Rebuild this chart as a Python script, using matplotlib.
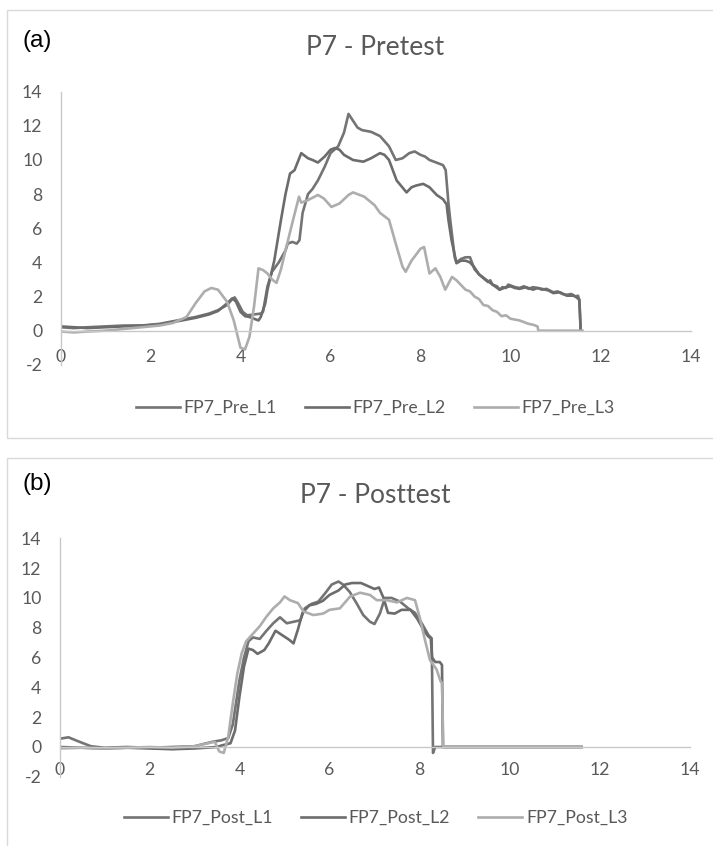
import matplotlib
matplotlib.use('Agg')
import matplotlib.pyplot as plt
from matplotlib.patches import Rectangle

plt.rcParams['axes.unicode_minus'] = False

# ---- data ----
pre_l1_x = [0.0, 0.3, 0.6, 1.0, 1.4, 1.8, 2.2, 2.6, 3.0, 3.3, 3.5, 3.7, 3.8, 3.87, 3.95, 4.05, 4.15, 4.3,
            4.45, 4.5, 4.6, 4.7, 4.85, 5.0, 5.05, 5.15, 5.25, 5.31, 5.38, 5.5, 5.6, 5.72, 5.87, 6.0, 6.17,
            6.3, 6.4, 6.5, 6.6, 6.7, 6.9, 7.1, 7.3, 7.45, 7.6, 7.75, 7.87, 8.0, 8.1, 8.2, 8.3, 8.4, 8.5,
            8.56, 8.62, 8.66, 8.76, 8.8, 8.9, 9.0, 9.1, 9.2, 9.3, 9.43, 9.5, 9.55, 9.6, 9.7, 9.76, 9.82,
            9.9, 9.95, 10.0, 10.1, 10.2, 10.3, 10.4, 10.5, 10.6, 10.7, 10.8, 10.95, 11.05, 11.15, 11.25,
            11.35, 11.45, 11.5, 11.53, 11.56]
pre_l1_y = [0.2, 0.15, 0.2, 0.25, 0.3, 0.3, 0.4, 0.6, 0.8, 1.0, 1.2, 1.5, 1.8, 1.95, 1.6, 1.1, 0.9, 0.95,
            1.0, 1.1, 2.6, 3.45, 4.0, 4.7, 5.1, 5.2, 5.1, 5.3, 6.9, 8.0, 8.3, 8.8, 9.6, 10.4, 10.8,
            11.6, 12.7, 12.3, 11.9, 11.75, 11.65, 11.4, 10.8, 10.0, 10.1, 10.4, 10.5, 10.3, 10.2, 10.0, 9.9,
            9.8, 9.7, 9.4, 7.5, 6.5, 4.3, 4.0, 4.2, 4.3, 4.3, 3.6, 3.3, 3.0, 2.85, 2.95, 2.7, 2.6, 2.4, 2.55,
            2.5, 2.7, 2.65, 2.55, 2.5, 2.6, 2.45, 2.55, 2.5, 2.4, 2.45, 2.25, 2.3, 2.15, 2.1,
            2.15, 2.0, 2.05, 1.8, 0.0]

pre_l2_x = [0.0, 0.3, 0.6, 1.0, 1.4, 1.8, 2.2, 2.6, 3.0, 3.3, 3.5, 3.7, 3.82, 3.9, 4.0, 4.1, 4.2, 4.3,
            4.4, 4.45, 4.55, 4.6, 4.75, 4.9, 5.0, 5.1, 5.2, 5.35, 5.5, 5.6, 5.72, 5.87, 6.0, 6.1, 6.2,
            6.3, 6.5, 6.73, 6.9, 7.1, 7.2, 7.3, 7.47, 7.69, 7.8, 7.9, 8.06, 8.2, 8.36, 8.5, 8.58, 8.62,
            8.69, 8.8, 8.9, 9.0, 9.1, 9.2, 9.3, 9.45, 9.6, 9.76, 9.9, 10.0, 10.1, 10.2, 10.35, 10.5,
            10.6, 10.7, 10.85, 10.95, 11.1, 11.25, 11.4, 11.47, 11.53, 11.56]
pre_l2_y = [0.25, 0.2, 0.15, 0.2, 0.25, 0.3, 0.35, 0.55, 0.75, 0.95, 1.15, 1.6, 1.9, 1.7, 1.1, 0.85, 0.8, 0.7,
            0.6, 0.8, 1.6, 2.4, 4.1, 6.5, 8.0, 9.2, 9.4, 10.4, 10.1, 10.0, 9.85, 10.2, 10.6, 10.7, 10.6,
            10.3, 10.0, 9.9, 10.1, 10.4, 10.3, 10.0, 8.8, 8.1, 8.4, 8.5, 8.6, 8.4, 7.95, 7.7, 7.4, 6.5,
            5.3, 3.95, 4.1, 4.1, 4.0, 3.7, 3.3, 3.0, 2.7, 2.4, 2.55, 2.6, 2.5, 2.45, 2.55, 2.4,
            2.5, 2.45, 2.35, 2.2, 2.25, 2.05, 2.05, 1.95, 1.8, 0.0]

pre_l3_x = [0.0, 0.3, 0.6, 1.0, 1.4, 1.8, 2.2, 2.5, 2.8, 3.0, 3.2, 3.35, 3.5, 3.7, 3.85, 4.0, 4.1, 4.2,
            4.3, 4.4, 4.5, 4.6, 4.7, 4.8, 4.9, 5.0, 5.15, 5.3, 5.35, 5.5, 5.72, 5.85, 6.02, 6.2, 6.4,
            6.5, 6.75, 6.98, 7.1, 7.3, 7.45, 7.6, 7.67, 7.8, 8.0, 8.08, 8.2, 8.33, 8.44, 8.55, 8.7, 8.8,
            9.0, 9.1, 9.2, 9.3, 9.4, 9.5, 9.6, 9.7, 9.8, 9.9, 10.0, 10.1, 10.2, 10.3, 10.4, 10.5, 10.6,
            10.62, 11.6]
pre_l3_y = [-0.05, -0.1, -0.05, 0.0, 0.1, 0.2, 0.3, 0.45, 0.8, 1.6, 2.3, 2.5, 2.4, 1.7, 0.6, -1.0, -1.1, -0.35,
            1.4, 3.65, 3.55, 3.35, 3.0, 2.8, 3.6, 4.7, 6.3, 7.85, 7.5, 7.65, 7.95, 7.75, 7.25, 7.45, 7.95,
            8.1, 7.85, 7.35, 6.9, 6.5, 5.1, 3.75, 3.45, 4.1, 4.8, 4.9, 3.35, 3.65, 3.15, 2.4, 3.15, 2.95,
            2.4, 2.3, 2.0, 1.85, 1.5, 1.45, 1.2, 1.1, 0.85, 0.9, 0.7, 0.65, 0.6, 0.5, 0.4, 0.35, 0.25,
            0.0, 0.0]

post_l1_x = [0.0, 0.2, 0.4, 0.7, 1.0, 1.5, 2.0, 2.5, 3.0, 3.4, 3.6, 3.75, 3.85, 4.0, 4.1, 4.2, 4.3, 4.45,
             4.6, 4.75, 4.9, 5.05, 5.2, 5.35, 5.45, 5.6, 5.75, 5.9, 6.05, 6.2, 6.3, 6.45, 6.6, 6.75, 6.9,
             7.0, 7.12, 7.23, 7.38, 7.57, 7.75, 7.9, 8.05, 8.2, 8.27, 8.28, 8.3, 8.35, 11.6]
post_l1_y = [0.55, 0.65, 0.4, 0.05, -0.05, 0.0, -0.05, 0.0, 0.05, 0.35, 0.45, 0.6, 1.5, 4.5, 6.0, 7.1, 7.35, 7.25,
             7.8, 8.3, 8.7, 8.3, 8.4, 8.5, 9.3, 9.6, 9.75, 10.3, 10.9, 11.1, 10.9, 10.4, 9.65, 8.85, 8.4,
             8.25, 8.95, 10.0, 10.0, 9.75, 9.3, 9.0, 8.3, 7.5, 7.3, 5.0, -0.4, 0.0, 0.0]

post_l2_x = [0.0, 0.5, 1.0, 1.5, 2.0, 2.5, 3.0, 3.5, 3.6, 3.8, 3.9, 4.0, 4.1, 4.2, 4.3, 4.4, 4.55, 4.65,
             4.8, 4.95, 5.1, 5.2, 5.3, 5.4, 5.55, 5.7, 5.85, 6.0, 6.2, 6.35, 6.5, 6.7, 6.85, 7.0, 7.1,
             7.2, 7.3, 7.45, 7.6, 7.8, 7.95, 8.1, 8.2, 8.25, 8.28, 8.35, 8.45, 8.5, 8.52, 11.6]
post_l2_y = [0.0, -0.05, -0.1, -0.05, -0.1, -0.15, -0.1, 0.0, 0.1, 0.25, 1.1, 3.4, 5.4, 6.6, 6.5, 6.25, 6.5, 6.95,
             7.8, 7.5, 7.2, 6.95, 7.9, 9.0, 9.5, 9.6, 9.8, 10.2, 10.5, 10.9, 11.0, 11.0, 10.8, 10.6, 10.7,
             10.0, 9.0, 8.95, 9.2, 9.2, 8.6, 7.8, 7.4, 7.3, 6.0, 5.7, 5.7, 5.5, 0.0, 0.0]

post_l3_x = [0.0, 0.5, 1.0, 1.5, 2.0, 2.5, 3.0, 3.3, 3.45, 3.55, 3.65, 3.75, 3.85, 3.95, 4.05, 4.15, 4.3,
             4.45, 4.6, 4.75, 4.9, 5.0, 5.12, 5.3, 5.42, 5.64, 5.86, 6.0, 6.23, 6.46, 6.68, 6.9, 7.05,
             7.27, 7.5, 7.72, 7.9, 8.0, 8.12, 8.23, 8.38, 8.47, 8.5, 8.53, 11.6]
post_l3_y = [-0.1, -0.05, -0.1, -0.05, 0.0, -0.05, 0.05, 0.25, 0.35, -0.3, -0.4, 0.7, 2.9, 4.9, 6.3, 7.1, 7.6,
             8.1, 8.75, 9.3, 9.7, 10.1, 9.85, 9.65, 9.1, 8.85, 8.95, 9.2, 9.3, 10.1, 10.35, 10.2, 9.85,
             9.85, 9.7, 10.0, 9.85, 8.75, 7.2, 5.85, 5.2, 4.4, 4.3, 0.0, 0.0]

panels = [
    dict(tag='(a)', title='P7 - Pretest',
         series=[('FP7_Pre_L1', pre_l1_x, pre_l1_y), ('FP7_Pre_L2', pre_l2_x, pre_l2_y),
                 ('FP7_Pre_L3', pre_l3_x, pre_l3_y)]),
    dict(tag='(b)', title='P7 - Posttest',
         series=[('FP7_Post_L1', post_l1_x, post_l1_y), ('FP7_Post_L2', post_l2_x, post_l2_y),
                 ('FP7_Post_L3', post_l3_x, post_l3_y)]),
]

# ---- layout (pixels of a 713x846 canvas) ----
W, H = 713, 846
colors = ['#747474', '#6c6c6c', '#adadad']
txt = '#595959'
tick_font = 'Lato'

boxes = [
    dict(left=60.5, top=91.7, bottom=364.8, title_y=55, tag_y=40.5, leg_y=408, xpad=13.5,
         frame=(7, 10, 438)),
    dict(left=59.5, top=538.3, bottom=776.8, title_y=503, tag_y=484, leg_y=818, xpad=11.0,
         frame=(7, 458, 900)),
]

fig = plt.figure(figsize=(W / 100, H / 100), dpi=100)

for p, b in zip(panels, boxes):
    fx, fy0, fy1 = b['frame']
    fig.patches.append(Rectangle((fx / W, 1 - fy1 / H), (W + 20 - fx) / W, (fy1 - fy0) / H,
                                 transform=fig.transFigure, fill=False, edgecolor='#d9d9d9',
                                 linewidth=1.0))
    ax = fig.add_axes([b['left'] / W, 1 - b['bottom'] / H, 630 / W, (b['bottom'] - b['top']) / H])
    for (name, xs, ys), c in zip(p['series'], colors):
        ax.plot(xs, ys, color=c, linewidth=1.9, label=name, solid_joinstyle='round')
    ax.set_xlim(0, 14)
    ax.set_ylim(-2, 14)
    ax.set_xticks(range(0, 15, 2))
    ax.set_yticks(range(-2, 15, 2))
    for s in ('top', 'right'):
        ax.spines[s].set_visible(False)
    ax.spines['bottom'].set_position(('data', 0))
    for s in ('left', 'bottom'):
        ax.spines[s].set_color('#c8c8c8')
        ax.spines[s].set_linewidth(1.0)
    ax.tick_params(axis='both', length=0, labelsize=12.7, labelcolor=txt)
    ax.tick_params(axis='x', pad=b['xpad'])
    ax.tick_params(axis='y', pad=13)
    for lab in ax.get_xticklabels() + ax.get_yticklabels():
        lab.set_family(tick_font)
    ax.set_facecolor('none')

    fig.text(375.5 / W, 1 - b['title_y'] / H, p['title'], ha='center', va='baseline',
             fontsize=19, color=txt, family=tick_font)
    fig.text(22 / W, 1 - b['tag_y'] / H, p['tag'], ha='left', va='center',
             fontsize=17.5, color='black', family='Liberation Sans')

    leg = ax.legend(loc='center', bbox_to_anchor=(375.5 / W, 1 - b['leg_y'] / H),
                    bbox_transform=fig.transFigure, ncol=3, frameon=False,
                    handlelength=2.5, handletextpad=0.2, columnspacing=1.6,
                    prop={'family': tick_font, 'size': 12.7})
    for t in leg.get_texts():
        t.set_color(txt)

fig.savefig('out.png', dpi=100)
